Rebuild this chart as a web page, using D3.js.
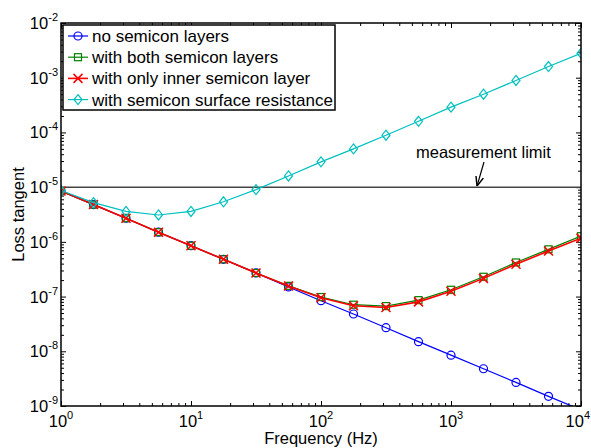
<!DOCTYPE html>
<html>
<head>
<meta charset="utf-8">
<script src="https://cdn.jsdelivr.net/npm/d3@7"></script>
<style>
  body { margin: 0; background: #fff; }
  text { font-family: "Liberation Sans", Arial, sans-serif; fill: #000; }
</style>
</head>
<body>
<svg id="chart" width="591" height="448"></svg>
<script>
// frequencies (Hz), quarter-decade steps
var freq = [1, 1.778, 3.162, 5.623, 10, 17.78, 31.62, 56.23, 100, 177.8, 316.2, 562.3, 1000, 1778, 3162, 5623, 10000];

var noSemicon   = [8.5e-6, 4.8e-6, 2.7e-6, 1.5e-6, 8.5e-7, 4.8e-7, 2.7e-7, 1.5e-7, 8.4e-8, 4.8e-8, 2.7e-8, 1.5e-8, 8.5e-9, 4.8e-9, 2.7e-9, 1.5e-9, 8.5e-10];
var bothSemicon = [8.5e-6, 4.8e-6, 2.7e-6, 1.5e-6, 8.5e-7, 4.8e-7, 2.7e-7, 1.57e-7, 9.8e-8, 7.1e-8, 6.7e-8, 8.6e-8, 1.33e-7, 2.3e-7, 4.2e-7, 7.3e-7, 1.27e-6];
var innerOnly   = [8.5e-6, 4.8e-6, 2.7e-6, 1.5e-6, 8.5e-7, 4.8e-7, 2.7e-7, 1.56e-7, 9.5e-8, 6.8e-8, 6.3e-8, 8.0e-8, 1.25e-7, 2.15e-7, 3.9e-7, 6.8e-7, 1.17e-6];
var surfaceRes  = [8.7e-6, 5.2e-6, 3.6e-6, 3.1e-6, 3.6e-6, 5.4e-6, 9.0e-6, 1.6e-5, 2.9e-5, 5.0e-5, 8.9e-5, 1.6e-4, 2.9e-4, 5.0e-4, 8.9e-4, 1.6e-3, 2.8e-3];

var seriesNames = ["no semicon layers", "with both semicon layers", "with only inner semicon layer", "with semicon surface resistance"];
var xDecades = [0, 1, 2, 3, 4];
var yDecades = [-9, -8, -7, -6, -5, -4, -3, -2];
var limitValue = 1e-5;

var margin = {top: 23, right: 10, bottom: 42, left: 61};
var width = 591, height = 448;
var fontSize = "16.5px", supSize = "11px";

var svg = d3.select("#chart");

var x = d3.scaleLog().domain([1, 1e4]).range([margin.left, width - margin.right]);
var y = d3.scaleLog().domain([1e-9, 1e-2]).range([height - margin.bottom, margin.top]);

// minor tick values (2..9 of every decade)
function minors(lo, hi) {
  var out = [];
  for (var e = lo; e < hi; e++) {
    for (var m = 2; m <= 9; m++) out.push(m * Math.pow(10, e));
  }
  return out;
}
var xMajor = xDecades.map(function(e) { return Math.pow(10, e); });
var yMajor = yDecades.map(function(e) { return Math.pow(10, e); });
var xMinor = minors(0, 4), yMinor = minors(-9, -2);

var x0 = x.range()[0], x1 = x.range()[1], y0 = y.range()[0], y1 = y.range()[1];

// ticks (inward) on all four sides
function tickAxis(axis, values, size, tr) {
  svg.append("g")
    .attr("transform", tr)
    .call(axis.tickValues(values).tickSize(size).tickFormat(""))
    .call(function(g) { g.select(".domain").remove(); })
    .selectAll("line").attr("stroke", "#000").attr("stroke-width", 1);
}
tickAxis(d3.axisBottom(x), xMajor, -5, "translate(0," + y0 + ")");
tickAxis(d3.axisBottom(x), xMinor, -3, "translate(0," + y0 + ")");
tickAxis(d3.axisTop(x), xMajor, -5, "translate(0," + y1 + ")");
tickAxis(d3.axisTop(x), xMinor, -3, "translate(0," + y1 + ")");
tickAxis(d3.axisLeft(y), yMajor, -5, "translate(" + x0 + ",0)");
tickAxis(d3.axisLeft(y), yMinor, -3, "translate(" + x0 + ",0)");
tickAxis(d3.axisRight(y), yMajor, -5, "translate(" + x1 + ",0)");
tickAxis(d3.axisRight(y), yMinor, -3, "translate(" + x1 + ",0)");

// tick labels 10^n
xDecades.forEach(function(e) {
  var t = svg.append("text")
    .attr("x", x(Math.pow(10, e)))
    .attr("y", y0 + 21)
    .attr("text-anchor", "middle")
    .style("font-size", fontSize);
  t.append("tspan").text("10");
  t.append("tspan").attr("dy", -8).style("font-size", supSize).text(e);
  // keep the last label inside the picture
  var bb = t.node().getBBox();
  if (bb.x + bb.width > width - 1) t.attr("x", +t.attr("x") - (bb.x + bb.width - width + 1));
});
yDecades.forEach(function(e) {
  var t = svg.append("text")
    .attr("x", x0 - 3)
    .attr("y", y(Math.pow(10, e)) + 6)
    .attr("text-anchor", "end")
    .style("font-size", fontSize);
  t.append("tspan").text("10");
  t.append("tspan").attr("dy", -8).style("font-size", supSize).text(e);
});

// measurement limit
svg.append("line")
  .attr("x1", x0).attr("x2", x1)
  .attr("y1", y(limitValue)).attr("y2", y(limitValue))
  .attr("stroke", "#444").attr("stroke-width", 1.5);

var line = d3.line()
  .x(function(d) { return x(d[0]); })
  .y(function(d) { return y(d[1]); });

svg.append("clipPath").attr("id", "clip")
  .append("rect").attr("x", x0).attr("y", y1).attr("width", x1 - x0).attr("height", y0 - y1);

var series = [
  {name: seriesNames[0], values: noSemicon,   color: "#0000ff", marker: "circle"},
  {name: seriesNames[1], values: bothSemicon, color: "#008000", marker: "square"},
  {name: seriesNames[2], values: innerOnly,   color: "#ff0000", marker: "cross"},
  {name: seriesNames[3], values: surfaceRes,  color: "#00bfbf", marker: "diamond"}
];

function drawMarker(g, type, cx, cy, color) {
  if (type == "circle") {
    g.append("circle").attr("cx", cx).attr("cy", cy).attr("r", 4)
      .attr("fill", "none").attr("stroke", color).attr("stroke-width", 1.2);
  } else if (type == "square") {
    g.append("rect").attr("x", cx - 3.5).attr("y", cy - 3.5).attr("width", 7).attr("height", 7)
      .attr("fill", "none").attr("stroke", color).attr("stroke-width", 1.2);
  } else if (type == "cross") {
    g.append("path").attr("d", "M" + (cx - 4.5) + "," + (cy - 4.5) + "L" + (cx + 4.5) + "," + (cy + 4.5) +
      "M" + (cx - 4.5) + "," + (cy + 4.5) + "L" + (cx + 4.5) + "," + (cy - 4.5))
      .attr("stroke", color).attr("stroke-width", 1.5);
  } else {
    g.append("path").attr("d", "M" + cx + "," + (cy - 5) + "L" + (cx + 4) + "," + cy + "L" + cx + "," + (cy + 5) + "L" + (cx - 4) + "," + cy + "Z")
      .attr("fill", "none").attr("stroke", color).attr("stroke-width", 1.2);
  }
}

var plot = svg.append("g").attr("clip-path", "url(#clip)");
series.forEach(function(s) {
  var pts = freq.map(function(f, i) { return [f, s.values[i]]; });
  var g = plot.append("g");
  g.append("path").datum(pts)
    .attr("d", line)
    .attr("fill", "none")
    .attr("stroke", s.color)
    .attr("stroke-width", s.marker == "cross" ? 1.6 : 1.2);
  pts.forEach(function(p) { drawMarker(g, s.marker, x(p[0]), y(p[1]), s.color); });
});

// annotation
svg.append("text")
  .attr("x", 416).attr("y", 158)
  .style("font-size", fontSize)
  .text("measurement limit");
svg.append("defs").append("marker")
  .attr("id", "arrow").attr("viewBox", "0 0 10 10")
  .attr("refX", 10).attr("refY", 5)
  .attr("markerWidth", 8).attr("markerHeight", 8)
  .attr("orient", "auto")
  .append("path").attr("d", "M0,1L10,5L0,9").attr("fill", "none").attr("stroke", "#000").attr("stroke-width", 1.5);
svg.append("line")
  .attr("x1", 484).attr("y1", 162).attr("x2", 477).attr("y2", y(limitValue) - 1)
  .attr("stroke", "#000").attr("stroke-width", 1.2)
  .attr("marker-end", "url(#arrow)");

// axes box
svg.append("rect")
  .attr("x", x0).attr("y", y1).attr("width", x1 - x0).attr("height", y0 - y1)
  .attr("fill", "none").attr("stroke", "#000").attr("stroke-width", 1.5);

// axis titles
svg.append("text")
  .attr("x", (x0 + x1) / 2).attr("y", 444)
  .attr("text-anchor", "middle")
  .style("font-size", fontSize)
  .text("Frequency (Hz)");
svg.append("text")
  .attr("transform", "translate(24," + ((y0 + y1) / 2) + ") rotate(-90)")
  .attr("text-anchor", "middle")
  .style("font-size", fontSize)
  .text("Loss tangent");

// legend
var legend = svg.append("g");
legend.append("rect")
  .attr("x", 63).attr("y", 25).attr("width", 272).attr("height", 85)
  .attr("fill", "#fff").attr("stroke", "#000").attr("stroke-width", 1.5);
series.forEach(function(s, i) {
  var ly = 36 + i * 21.2;
  legend.append("line").attr("x1", 68).attr("x2", 88).attr("y1", ly).attr("y2", ly)
    .attr("stroke", s.color).attr("stroke-width", s.marker == "cross" ? 1.6 : 1.2);
  drawMarker(legend, s.marker, 78, ly, s.color);
  legend.append("text").attr("x", 92).attr("y", ly + 6)
    .style("font-size", "17px")
    .text(s.name);
});
</script>
</body>
</html>
